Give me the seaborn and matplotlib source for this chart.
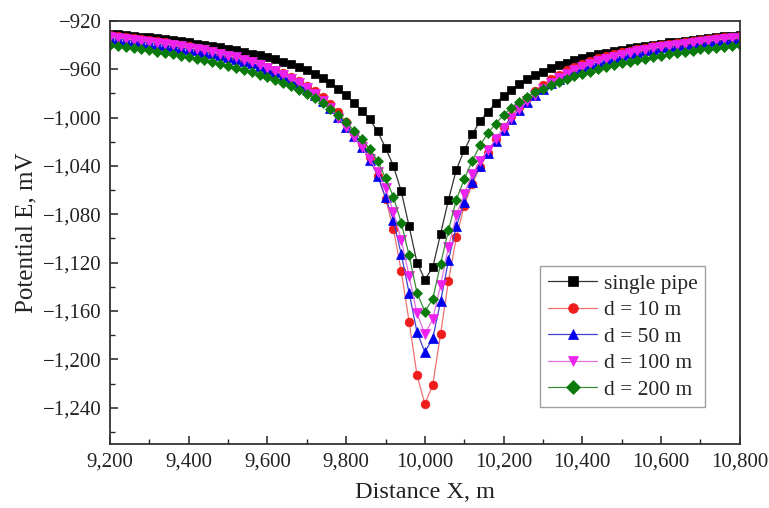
import matplotlib
matplotlib.use("Agg")
import matplotlib.pyplot as plt
from matplotlib.ticker import MultipleLocator, FuncFormatter
import seaborn as sns
import pandas as pd

distance = list(range(9200, 10801, 20))

single_pipe = [
    -930.5, -931.1, -931.7, -932.3, -933.0, -933.7, -934.4, -935.2, -936.0, -936.9,
    -937.8, -938.8, -939.8, -940.9, -942.0, -943.2, -944.4, -945.7, -947.1, -948.6,
    -950.2, -951.9, -953.8, -955.9, -958.3, -961.0, -964.0, -967.5, -971.5, -976.0,
    -981.5, -988.0, -994.5, -1001.5, -1011.5, -1025.0, -1040.0, -1061.0, -1090.0, -1120.0,
    -1134.0,
    -1124.0, -1096.0, -1068.0, -1043.0, -1027.0, -1014.0, -1003.0, -995.0, -988.0, -982.0,
    -977.0, -972.5, -968.5, -965.0, -962.0, -959.3, -956.9, -954.7, -952.7, -950.9,
    -949.3, -947.8, -946.4, -945.1, -943.9, -942.8, -941.7, -940.7, -939.7, -938.8,
    -937.9, -937.1, -936.3, -935.5, -934.8, -934.1, -933.4, -932.8, -932.2, -931.6,
]

d10 = [
    -932.0, -932.7, -933.4, -934.2, -935.0, -935.9, -936.8, -937.8, -938.8, -939.9,
    -941.0, -942.2, -943.5, -944.9, -946.4, -948.0, -949.7, -951.5, -953.5, -955.7,
    -958.0, -960.5, -963.3, -966.4, -969.8, -973.6, -977.8, -982.8, -988.8, -995.8,
    -1003.8, -1012.8, -1022.0, -1033.0, -1048.0, -1067.0, -1092.0, -1127.0, -1169.0, -1213.0,
    -1237.0,
    -1221.0, -1179.0, -1135.0, -1099.0, -1073.0, -1055.0, -1041.0, -1029.0, -1018.0, -1008.0,
    -999.0, -991.0, -984.0, -978.0, -973.0, -968.5, -964.5, -961.0, -958.0, -955.3,
    -953.0, -951.0, -949.2, -947.6, -946.1, -944.7, -943.4, -942.2, -941.1, -940.1,
    -939.1, -938.2, -937.3, -936.5, -935.7, -935.0, -934.3, -933.7, -933.1, -932.5,
]

d50 = [
    -934.5, -935.2, -935.9, -936.7, -937.5, -938.3, -939.2, -940.1, -941.1, -942.1,
    -943.2, -944.3, -945.5, -946.8, -948.2, -949.7, -951.3, -953.1, -955.1, -957.3,
    -959.8, -962.5, -965.5, -968.8, -972.4, -976.4, -981.0, -986.3, -992.5, -999.7,
    -1007.5, -1015.5, -1024.5, -1035.0, -1048.0, -1066.0, -1085.0, -1113.0, -1145.0, -1177.5,
    -1194.0,
    -1182.5, -1152.0, -1118.0, -1090.0, -1070.0, -1053.0, -1040.0, -1029.5, -1019.5, -1010.0,
    -1001.5, -993.5, -987.0, -981.2, -976.2, -971.8, -967.8, -964.3, -961.3, -958.6,
    -956.1, -953.9, -951.9, -950.1, -948.4, -946.9, -945.5, -944.2, -943.0, -941.9,
    -940.9, -940.0, -939.1, -938.3, -937.5, -936.8, -936.1, -935.4, -934.8, -934.2,
]

d100 = [
    -933.5, -934.2, -934.9, -935.7, -936.5, -937.3, -938.2, -939.1, -940.1, -941.1,
    -942.2, -943.3, -944.5, -945.8, -947.2, -948.7, -950.3, -952.1, -954.1, -956.3,
    -958.8, -961.6, -964.7, -968.1, -971.8, -975.8, -980.5, -986.0, -992.5, -1000.0,
    -1008.0, -1016.0, -1024.5, -1034.5, -1045.0, -1058.5, -1078.0, -1101.0, -1131.0, -1162.0,
    -1179.0,
    -1167.0, -1138.5, -1107.0, -1081.0, -1063.0, -1047.0, -1036.0, -1027.0, -1018.0, -1009.0,
    -1000.5, -993.0, -986.5, -981.0, -976.0, -971.5, -967.5, -964.0, -961.0, -958.3,
    -955.8, -953.6, -951.6, -949.8, -948.1, -946.6, -945.2, -943.9, -942.7, -941.6,
    -940.6, -939.7, -938.8, -938.0, -937.2, -936.5, -935.8, -935.1, -934.5, -933.9,
]

d200 = [
    -940.0, -940.8, -941.6, -942.5, -943.4, -944.4, -945.4, -946.5, -947.6, -948.8,
    -950.0, -951.3, -952.7, -954.1, -955.6, -957.2, -958.9, -960.7, -962.6, -964.6,
    -966.7, -969.0, -971.5, -974.2, -977.2, -980.5, -984.2, -988.3, -992.8, -997.8,
    -1003.5, -1011.0, -1018.0, -1026.0, -1036.0, -1050.0, -1065.5, -1087.0, -1114.0, -1145.0,
    -1160.5,
    -1150.0, -1121.0, -1093.0, -1068.0, -1051.0, -1036.0, -1023.0, -1013.0, -1005.0, -998.0,
    -992.0, -987.0, -983.0, -979.0, -976.0, -973.0, -970.5, -968.0, -966.0, -964.0,
    -962.0, -960.0, -958.3, -956.7, -955.2, -953.8, -952.5, -951.2, -950.0, -948.8,
    -947.7, -946.6, -945.6, -944.6, -943.7, -942.9, -942.1, -941.4, -940.7, -940.0,
]

labels = ["single pipe", "d = 10 m", "d = 50 m", "d = 100 m", "d = 200 m"]
series = [single_pipe, d10, d50, d100, d200]
colors = ["#000000", "#ee1c1c", "#0000ee", "#ee22ee", "#0a7a0a"]
line_colors = ["#333333", "#f07070", "#4040d0", "#e070e0", "#3a8a3a"]
markers = ["s", "o", "^", "v", "D"]
msizes = [5.6, 6.2, 6.6, 6.6, 5.2]

sns.set_style("ticks")
plt.rcParams["font.family"] = ["Liberation Serif", "DejaVu Serif"]
plt.rcParams["axes.unicode_minus"] = True

fig = plt.figure(figsize=(7.69, 5.08), dpi=100)
ax = fig.add_axes([0.143, 0.126, 0.819, 0.833])

for lab, vals, c, lc, m, ms in zip(labels, series, colors, line_colors, markers, msizes):
    df = pd.DataFrame({"Distance": distance, "Potential": vals})
    sns.lineplot(data=df, x="Distance", y="Potential", ax=ax, color=lc,
                 linewidth=0.9, marker=m, markersize=ms, markerfacecolor=c,
                 markeredgecolor=c, markeredgewidth=0.5, label=lab)

ax.set_xlim(9200, 10800)
ax.set_ylim(-1270, -920)
ax.xaxis.set_major_locator(MultipleLocator(200))
ax.xaxis.set_minor_locator(MultipleLocator(100))
ax.yaxis.set_minor_locator(MultipleLocator(20))
ax.set_yticks(list(range(-1240, -919, 40)))
fmt = FuncFormatter(lambda v, p: f"{v:,.0f}".replace("-", "\u2212"))
ax.xaxis.set_major_formatter(fmt)
ax.yaxis.set_major_formatter(fmt)

ax.tick_params(axis="both", which="major", direction="in", length=6, width=1.1,
               labelsize=15, colors="#222222", pad=6)
ax.tick_params(axis="both", which="minor", direction="in", length=3.5, width=1.0)
ax.tick_params(top=False, right=False, which="both")
for s in ax.spines.values():
    s.set_linewidth(1.3)
    s.set_color("#333333")

ax.set_xlabel("Distance X, m", fontsize=17.5, labelpad=8, color="#222222")
ax.set_ylabel("Potential E, mV", fontsize=18, labelpad=4, color="#222222")

leg = ax.legend(loc="lower right", bbox_to_anchor=(0.945, 0.087), frameon=True,
                fancybox=False, edgecolor="#888888", fontsize=15.5,
                handlelength=2.3, handletextpad=0.3, borderpad=0.35,
                labelspacing=0.3, borderaxespad=0.0)
leg.get_frame().set_linewidth(1.0)
for h in leg.legend_handles:
    h.set_markersize(7)

fig.savefig("out.png", dpi=100)
